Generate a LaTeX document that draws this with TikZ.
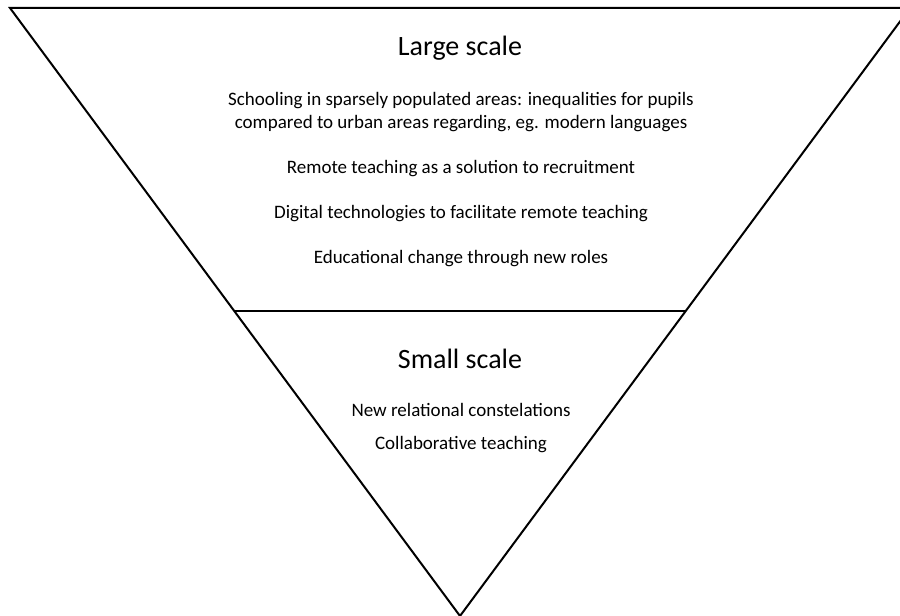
\documentclass[tikz,border=0pt]{standalone}
\usepackage{fontspec}
\setmainfont{Carlito}
\begin{document}
\begin{tikzpicture}[x=1pt,y=1pt,
  edge/.style={line width=2pt,line join=miter},
  title/.style={font=\fontsize{28}{33}\selectfont,anchor=center},
  body/.style={font=\fontsize{19}{23}\selectfont,align=center,anchor=center}]
\useasboundingbox (0,0) rectangle (900,616);
\clip (0,0) rectangle (900,616);
\coordinate (tl) at (10,608);
\coordinate (tr) at (910,608);
\coordinate (ap) at (460,0);
\coordinate (ml) at (234.5,305);
\coordinate (mr) at (685.5,305);
\draw[edge] (tl) -- (tr) -- (ap) -- cycle;
\draw[edge] (ml) -- (mr);
\node[title] (large) at (460,568) {Large scale};
\node[body] (t1) at (461,503.5) {Schooling in sparsely populated areas: inequalities for pupils\\compared to urban areas regarding, eg. modern languages};
\node[body] (t2) at (461,447) {Remote teaching as a solution to recruitment};
\node[body] (t3) at (461,402) {Digital technologies to facilitate remote teaching};
\node[body] (t4) at (461,357) {Educational change through new roles};
\node[title] (small) at (460,257) {Small scale};
\node[body] (s1) at (461,206) {New relational constelations};
\node[body] (s2) at (461,171) {Collaborative teaching};
\end{tikzpicture}
\end{document}
